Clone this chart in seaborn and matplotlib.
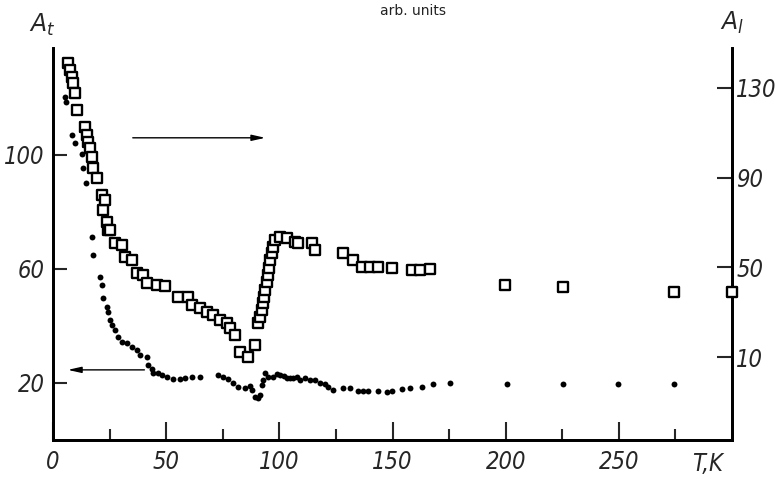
import matplotlib
matplotlib.use("Agg")
import matplotlib.pyplot as plt
import seaborn as sns
import pandas as pd

# ---- data: A_l (open squares, right axis) ----
sq_T = [6.6, 7.5, 8.4, 8.8, 9.7, 10.6, 14.1, 15.0, 15.5, 16.3, 17.2, 17.7, 19.4,
        21.7, 22.1, 23.0, 23.9, 24.3, 25.2, 27.4, 30.5, 31.8, 34.9, 37.1, 39.8,
        41.5, 46.0, 49.5, 55.2, 59.7, 61.4, 65.0, 68.1, 70.7, 73.8, 76.9, 78.2,
        80.4, 82.6, 86.2, 89.3, 90.6, 91.5, 92.4, 92.8, 93.2, 93.7, 94.6, 95.0,
        95.4, 95.9, 96.8, 97.2, 98.1, 100.3, 103.4, 106.9, 108.3, 114.5, 115.8,
        128.1, 132.6, 136.5, 140.1, 143.6, 149.8, 158.6, 162.2, 166.6, 199.7,
        225.4, 274.4, 300.0]
sq_A = [141.1, 138.0, 134.9, 132.2, 127.8, 120.2, 112.6, 109.0, 105.9, 103.2, 99.2,
        94.3, 89.8, 82.3, 75.6, 80.0, 70.2, 66.6, 66.6, 60.8, 60.0, 54.6, 53.3,
        47.5, 46.6, 43.0, 42.1, 41.7, 36.8, 36.8, 33.2, 31.9, 30.1, 28.7, 26.5,
        25.2, 22.9, 19.8, 12.2, 10.0, 15.4, 25.2, 27.8, 31.0, 34.1, 36.8, 39.9,
        43.5, 46.6, 49.7, 53.3, 56.4, 59.1, 62.2, 63.5, 63.1, 61.3, 60.8, 60.8,
        57.7, 56.4, 53.3, 50.1, 50.1, 50.1, 49.7, 48.8, 48.8, 49.3, 42.1, 41.2,
        39.0, 39.0]

# ---- data: A_t (filled dots, left axis) ----
dot_T = [5.3, 5.7, 8.4, 9.7, 12.8, 13.3, 14.6, 17.2, 17.7, 20.8, 21.7, 22.1, 23.9,
         24.3, 25.2, 26.1, 27.4, 28.7, 30.5, 32.7, 34.9, 37.1, 38.4, 41.5, 42.0,
         43.7, 44.2, 46.4, 48.2, 50.4, 53.0, 56.1, 58.3, 61.4, 65.0, 72.9, 75.1,
         77.3, 79.5, 81.7, 84.8, 87.1, 87.9, 89.3, 90.6, 91.5, 92.4, 92.8, 93.7,
         95.0, 97.2, 99.0, 100.3, 102.1, 103.4, 104.7, 106.1, 107.8, 109.1, 111.4,
         113.6, 115.8, 118.0, 120.2, 121.5, 123.7, 128.1, 131.2, 134.8, 137.0,
         139.2, 143.6, 147.6, 149.8, 154.2, 157.8, 163.1, 167.9, 175.4, 200.6,
         225.4, 249.7, 274.4]
dot_A = [120.4, 118.6, 107.0, 104.2, 100.4, 95.4, 90.2, 71.2, 64.9, 57.2, 54.4,
         49.8, 46.7, 44.9, 42.1, 40.4, 38.6, 36.1, 34.4, 34.0, 32.6, 31.6, 29.8,
         29.1, 26.3, 24.9, 23.5, 23.5, 22.8, 22.1, 21.4, 21.4, 21.8, 22.1, 22.1,
         22.8, 22.1, 21.4, 20.0, 18.6, 18.2, 18.9, 17.5, 15.1, 14.7, 15.8, 19.3,
         21.1, 23.5, 22.1, 22.1, 23.2, 22.8, 22.5, 21.8, 21.8, 21.8, 22.1, 21.1,
         21.8, 21.1, 21.1, 20.0, 19.6, 18.6, 17.5, 18.2, 18.2, 17.2, 17.2, 17.2,
         17.2, 16.8, 17.2, 17.9, 18.2, 18.6, 19.6, 20.0, 19.6, 19.6, 19.6, 19.6]

x_ticks = [0, 50, 100, 150, 200, 250]
left_ticks = [20, 60, 100]
right_ticks = [10, 50, 90, 130]

sq_df = pd.DataFrame({"T": sq_T, "A_l": sq_A})
dot_df = pd.DataFrame({"T": dot_T, "A_t": dot_A})

sns.set_style("ticks")
plt.rcParams["font.family"] = ["DejaVu Sans"]

fig = plt.figure(figsize=(7.81, 4.79), dpi=100)
ax = fig.add_axes([0.0679, 0.0814, 0.8694, 0.8184])
ax2 = ax.twinx()

sns.scatterplot(data=dot_df, x="T", y="A_t", ax=ax, color="black", s=18,
                edgecolor="black", linewidth=0, legend=False, zorder=3)
sns.scatterplot(data=sq_df, x="T", y="A_l", ax=ax2, marker="s", s=58,
                facecolor="white", edgecolor="black", linewidth=1.7,
                legend=False, zorder=4, clip_on=False)

ax.set_xlim(0, 300)
ax.set_ylim(0, 137.5)
ax2.set_ylim(-27, 147.8)

for a in (ax, ax2):
    a.set_xlabel("")
    a.set_ylabel("")
    a.spines["top"].set_visible(False)
    for s in ("left", "right", "bottom"):
        a.spines[s].set_linewidth(2)
        a.spines[s].set_color("black")

tfont = dict(family="DejaVu Sans", style="italic", size=17, stretch="condensed")

ax.set_xticks(x_ticks)
ax.set_xticks([25, 75, 125, 175, 225, 275], minor=True)
ax.set_xticklabels([str(v) for v in x_ticks], fontdict=tfont)
ax.tick_params(axis="x", which="major", direction="in", length=13, width=1.5, pad=7)
ax.tick_params(axis="x", which="minor", direction="in", length=8, width=1.5)

ax.set_yticks(left_ticks)
ax.set_yticklabels([str(v) for v in left_ticks], fontdict=tfont)
ax.tick_params(axis="y", direction="in", length=10, width=1.5, pad=6)

ax2.set_yticks(right_ticks)
ax2.set_yticklabels([str(v) for v in right_ticks], fontdict=tfont)
ax2.tick_params(axis="y", direction="in", length=11, width=1.5, pad=3)

# axis names
fig.text(0.054, 0.948, "$A_t$", fontsize=17, ha="center", va="center")
fig.text(0.937, 0.952, "$A_l$", fontsize=17, ha="center", va="center")
fig.text(0.529, 0.977, "arb. units", fontsize=10, ha="center", va="center", color="#222222")
ax.text(289, -0.03, "T,K", transform=ax.get_xaxis_transform(), ha="center", va="top",
        **tfont)

# arrows
ax.annotate("", xy=(95, 106), xytext=(34, 106),
            arrowprops=dict(arrowstyle="-|>,head_length=0.8,head_width=0.18",
                            color="black", lw=1.0))
ax.annotate("", xy=(5.3, 24.6), xytext=(41.6, 24.6),
            arrowprops=dict(arrowstyle="-|>,head_length=0.8,head_width=0.18",
                            color="black", lw=1.0))

fig.savefig("out.png", dpi=100)
